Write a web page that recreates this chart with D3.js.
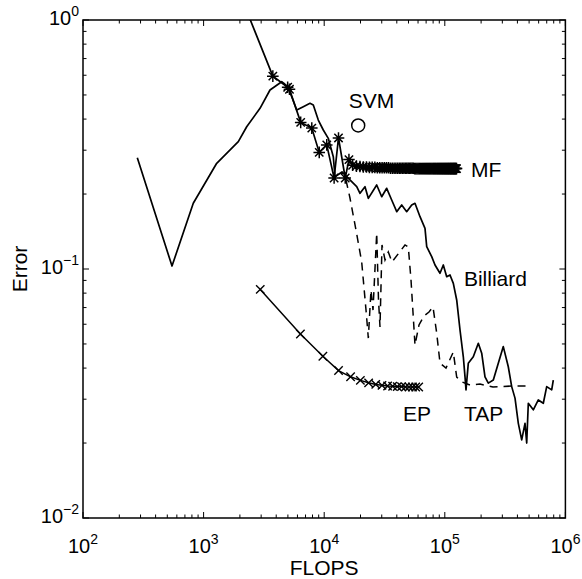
<!DOCTYPE html>
<html>
<head>
<meta charset="utf-8">
<script src="https://cdn.jsdelivr.net/npm/d3@7"></script>
<style>
  html, body { margin: 0; padding: 0; background: #fff; }
  svg { display: block; }
  text { font-family: "Liberation Sans", Arial, Helvetica, sans-serif; fill: #000; }
</style>
</head>
<body>
<svg id="chart" width="582" height="579"></svg>
<script>
// ---------- data ----------
const xTicks = [1e2, 1e3, 1e4, 1e5, 1e6];
const xTickExp = ["2", "3", "4", "5", "6"];
const yTicks = [1e-2, 1e-1, 1];
const yTickExp = ["\u22122", "\u22121", "0"];

const billiardX = [282, 547, 821, 1284, 1940, 2277, 2936, 3553, 4442, 5012, 5916, 6709, 7627, 8121, 8933, 9829, 10812, 11897, 12291, 14050, 16904, 18606, 19808, 21790, 23216, 27247, 29983, 32973, 36275, 39932, 43916, 48320, 53150, 56600, 62300, 68520, 70800, 77880, 82950, 91250, 97190, 103700, 110440, 117670, 125500, 133700, 142400, 147100, 149900, 156600, 172300, 189600, 202300, 215400, 229500, 252500, 277700, 305500, 336100, 358600, 382100, 407000, 434200, 462400, 477600, 492600, 541800, 596200, 655800, 699800, 769700, 793700];
const billiardY = [0.2797, 0.1028, 0.1836, 0.2658, 0.3246, 0.3727, 0.4418, 0.5234, 0.5653, 0.5382, 0.435, 0.4485, 0.4628, 0.4557, 0.3966, 0.3616, 0.3348, 0.2825, 0.2348, 0.2453, 0.2242, 0.2141, 0.2014, 0.2141, 0.1922, 0.2175, 0.1951, 0.2109, 0.1893, 0.1699, 0.1807, 0.1699, 0.1807, 0.1836, 0.1622, 0.1457, 0.1229, 0.1121, 0.1038, 0.0961, 0.1038, 0.0931, 0.0946, 0.0876, 0.0751, 0.0569, 0.0444, 0.0369, 0.0327, 0.0418, 0.0444, 0.0503, 0.0459, 0.0369, 0.0348, 0.0358, 0.0418, 0.0488, 0.0405, 0.0337, 0.0303, 0.0240, 0.0206, 0.0240, 0.0200, 0.0289, 0.0272, 0.0298, 0.0289, 0.0337, 0.0327, 0.0358];

const mfX = [2290, 3750, 4977, 5152, 6383, 7890, 9096, 10500, 12085, 13140, 14940, 16040, 17200,
  18500, 19800, 21100, 22400, 23700, 25000, 26300, 27600, 28900, 30200, 31500, 32800, 34100, 35400, 36700, 38000, 39300, 40600, 41900, 43200, 44500, 45800, 47100, 48400, 49700, 51000, 52300, 53600, 54900, 56200, 57500, 58800, 60100, 61400, 62700, 64000, 65300, 66600, 67900, 69200, 70500, 71800, 73100, 74400, 75700, 77000, 78300, 79600, 80900, 82200, 83500, 84800, 86100, 87400, 88700, 90000, 91300, 92600, 93900, 95200, 96500, 97800, 99100, 100400, 101700, 103000, 104300, 105600, 106900, 108200, 109500, 110800, 112100, 113400, 114700, 116000, 117300, 118600, 119900, 121200, 122500, 123800, 125100];
const mfY = [1.08, 0.595, 0.537, 0.527, 0.388, 0.368, 0.294, 0.315, 0.232, 0.336, 0.232, 0.275, 0.261,
  0.259, 0.258, 0.257, 0.257, 0.256, 0.256, 0.256, 0.255, 0.255, 0.255, 0.255, 0.255, 0.255, 0.254, 0.254, 0.254, 0.254, 0.254, 0.254, 0.254, 0.254, 0.254, 0.254, 0.254, 0.254, 0.254, 0.254, 0.254, 0.254, 0.253, 0.253, 0.253, 0.253, 0.253, 0.253, 0.253, 0.253, 0.253, 0.253, 0.253, 0.253, 0.253, 0.253, 0.253, 0.253, 0.253, 0.253, 0.253, 0.253, 0.253, 0.253, 0.253, 0.253, 0.253, 0.253, 0.253, 0.253, 0.253, 0.253, 0.253, 0.253, 0.253, 0.253, 0.253, 0.253, 0.253, 0.253, 0.253, 0.253, 0.253, 0.253, 0.253, 0.253, 0.253, 0.253, 0.253, 0.253, 0.253, 0.253, 0.253, 0.253, 0.253, 0.253];

const epX = [2950, 6350, 9750, 13150, 16550, 19950, 23350, 26750, 30150, 33550, 36950, 40350, 43750, 47150, 50550, 53950, 57350, 60750];
const epY = [0.0828, 0.0548, 0.0446, 0.0391, 0.0369, 0.0357, 0.0349, 0.0344, 0.0341, 0.0339, 0.0338, 0.0337, 0.0337, 0.0336, 0.0336, 0.0336, 0.0336, 0.0336];

const tapX = [15160, 16360, 18350, 20460, 22220, 23220, 24430, 25390, 27250, 28200, 29020, 30150, 31930, 34010, 36490, 46770, 49820, 52460, 56610, 61110, 67210, 73960, 79850, 85650, 91240, 102300, 117600, 125500, 138800, 161800, 195800, 251000, 367800, 489700];
const tapY = [0.2277, 0.1928, 0.1434, 0.1067, 0.0684, 0.0528, 0.0823, 0.0684, 0.1395, 0.0751, 0.0585, 0.1249, 0.1087, 0.1170, 0.1067, 0.1249, 0.1226, 0.0903, 0.0495, 0.0596, 0.0648, 0.0672, 0.0704, 0.0553, 0.0419, 0.0400, 0.0464, 0.0368, 0.0352, 0.0342, 0.0345, 0.0336, 0.0339, 0.0339];

const svmX = [19140];
const svmY = [0.377];

const labels = [
  { text: "SVM", x: 16000, y: 0.443 },
  { text: "MF", x: 165000, y: 0.234 },
  { text: "Billiard", x: 144000, y: 0.0855 },
  { text: "EP", x: 45000, y: 0.0245 },
  { text: "TAP", x: 144000, y: 0.0245 }
];

// ---------- layout ----------
const L = 83, R = 565.4, T = 20, B = 518;
const svg = d3.select("#chart");
const x = d3.scaleLog().domain([1e2, 1e6]).range([L, R]);
const y = d3.scaleLog().domain([1e-2, 1]).range([B, T]);

svg.append("defs").append("clipPath").attr("id", "clip")
  .append("rect").attr("x", L).attr("y", T).attr("width", R - L).attr("height", B - T);

const plot = svg.append("g").attr("clip-path", "url(#clip)");

const line = d3.line().x(d => x(d[0])).y(d => y(d[1]));
const zip = (a, b) => a.map((v, i) => [v, b[i]]);

const billiard = zip(billiardX, billiardY);
const mf = zip(mfX, mfY);
const ep = zip(epX, epY);
const tap = zip(tapX, tapY);

plot.append("path").datum(tap).attr("d", line)
  .attr("fill", "none").attr("stroke", "#000").attr("stroke-width", 1.5)
  .attr("stroke-dasharray", "8,6");
plot.append("path").datum(billiard).attr("d", line)
  .attr("fill", "none").attr("stroke", "#000").attr("stroke-width", 1.7)
  .attr("stroke-linejoin", "round");
plot.append("path").datum(ep).attr("d", line)
  .attr("fill", "none").attr("stroke", "#000").attr("stroke-width", 1.5);
plot.append("path").datum(mf).attr("d", line)
  .attr("fill", "none").attr("stroke", "#000").attr("stroke-width", 1.7);

// asterisk markers for MF
const rs = 5.8;
const starPath = `M${-rs},0L${rs},0M0,${-rs}L0,${rs}M${-rs*0.72},${-rs*0.72}L${rs*0.72},${rs*0.72}M${-rs*0.72},${rs*0.72}L${rs*0.72},${-rs*0.72}`;
plot.selectAll(".star").data(mf).enter().append("path")
  .attr("transform", d => `translate(${x(d[0])},${y(d[1])})`)
  .attr("d", starPath).attr("stroke", "#000").attr("stroke-width", 1.5).attr("fill", "none");

// x markers for EP
const rx = 4.2;
const xPath = `M${-rx},${-rx}L${rx},${rx}M${-rx},${rx}L${rx},${-rx}`;
plot.selectAll(".xm").data(ep).enter().append("path")
  .attr("transform", d => `translate(${x(d[0])},${y(d[1])})`)
  .attr("d", xPath).attr("stroke", "#000").attr("stroke-width", 1.4).attr("fill", "none");

// SVM circle
plot.selectAll(".svm").data(zip(svmX, svmY)).enter().append("circle")
  .attr("cx", d => x(d[0])).attr("cy", d => y(d[1])).attr("r", 6.5)
  .attr("fill", "none").attr("stroke", "#000").attr("stroke-width", 1.5);

// series labels
svg.selectAll(".lab").data(labels).enter().append("text")
  .attr("x", d => x(d.x)).attr("y", d => y(d.y))
  .attr("font-size", 21).text(d => d.text);

// ---------- axes box and ticks ----------
const tickG = svg.append("g").attr("stroke", "#000").attr("stroke-width", 1);
const minorX = [];
for (let e = 2; e < 6; e++) for (let k = 1; k <= 9; k++) minorX.push(k * Math.pow(10, e));
minorX.push(1e6);
const minorY = [];
for (let e = -2; e < 0; e++) for (let k = 1; k <= 9; k++) minorY.push(k * Math.pow(10, e));
minorY.push(1);
const isMajor = v => Math.abs(Math.log10(v) - Math.round(Math.log10(v))) < 1e-9;

minorX.forEach(v => {
  const len = isMajor(v) ? 6 : 3.5;
  tickG.append("line").attr("x1", x(v)).attr("x2", x(v)).attr("y1", B).attr("y2", B - len);
  tickG.append("line").attr("x1", x(v)).attr("x2", x(v)).attr("y1", T).attr("y2", T + len);
});
minorY.forEach(v => {
  const len = isMajor(v) ? 6 : 3.5;
  tickG.append("line").attr("y1", y(v)).attr("y2", y(v)).attr("x1", L).attr("x2", L + len);
  tickG.append("line").attr("y1", y(v)).attr("y2", y(v)).attr("x1", R).attr("x2", R - len);
});

svg.append("rect").attr("x", L).attr("y", T).attr("width", R - L).attr("height", B - T)
  .attr("fill", "none").attr("stroke", "#000").attr("stroke-width", 1.5);

// x tick labels
xTicks.forEach((v, i) => {
  const t = svg.append("text").attr("x", x(v)).attr("y", 553)
    .attr("text-anchor", "middle").attr("font-size", 20);
  t.append("tspan").text("10");
  t.append("tspan").attr("dy", -9).attr("font-size", 14).text(xTickExp[i]);
});
// y tick labels
yTicks.forEach((v, i) => {
  const t = svg.append("text").attr("x", 79).attr("y", y(v) + 5)
    .attr("text-anchor", "end").attr("font-size", 20);
  t.append("tspan").text("10");
  t.append("tspan").attr("dy", -9).attr("font-size", 14).text(yTickExp[i]);
});

// axis titles
svg.append("text").attr("x", (L + R) / 2).attr("y", 575)
  .attr("text-anchor", "middle").attr("font-size", 21).text("FLOPS");
svg.append("text").attr("transform", `translate(27,${(T + B) / 2}) rotate(-90)`)
  .attr("text-anchor", "middle").attr("font-size", 21).text("Error");
</script>
</body>
</html>
